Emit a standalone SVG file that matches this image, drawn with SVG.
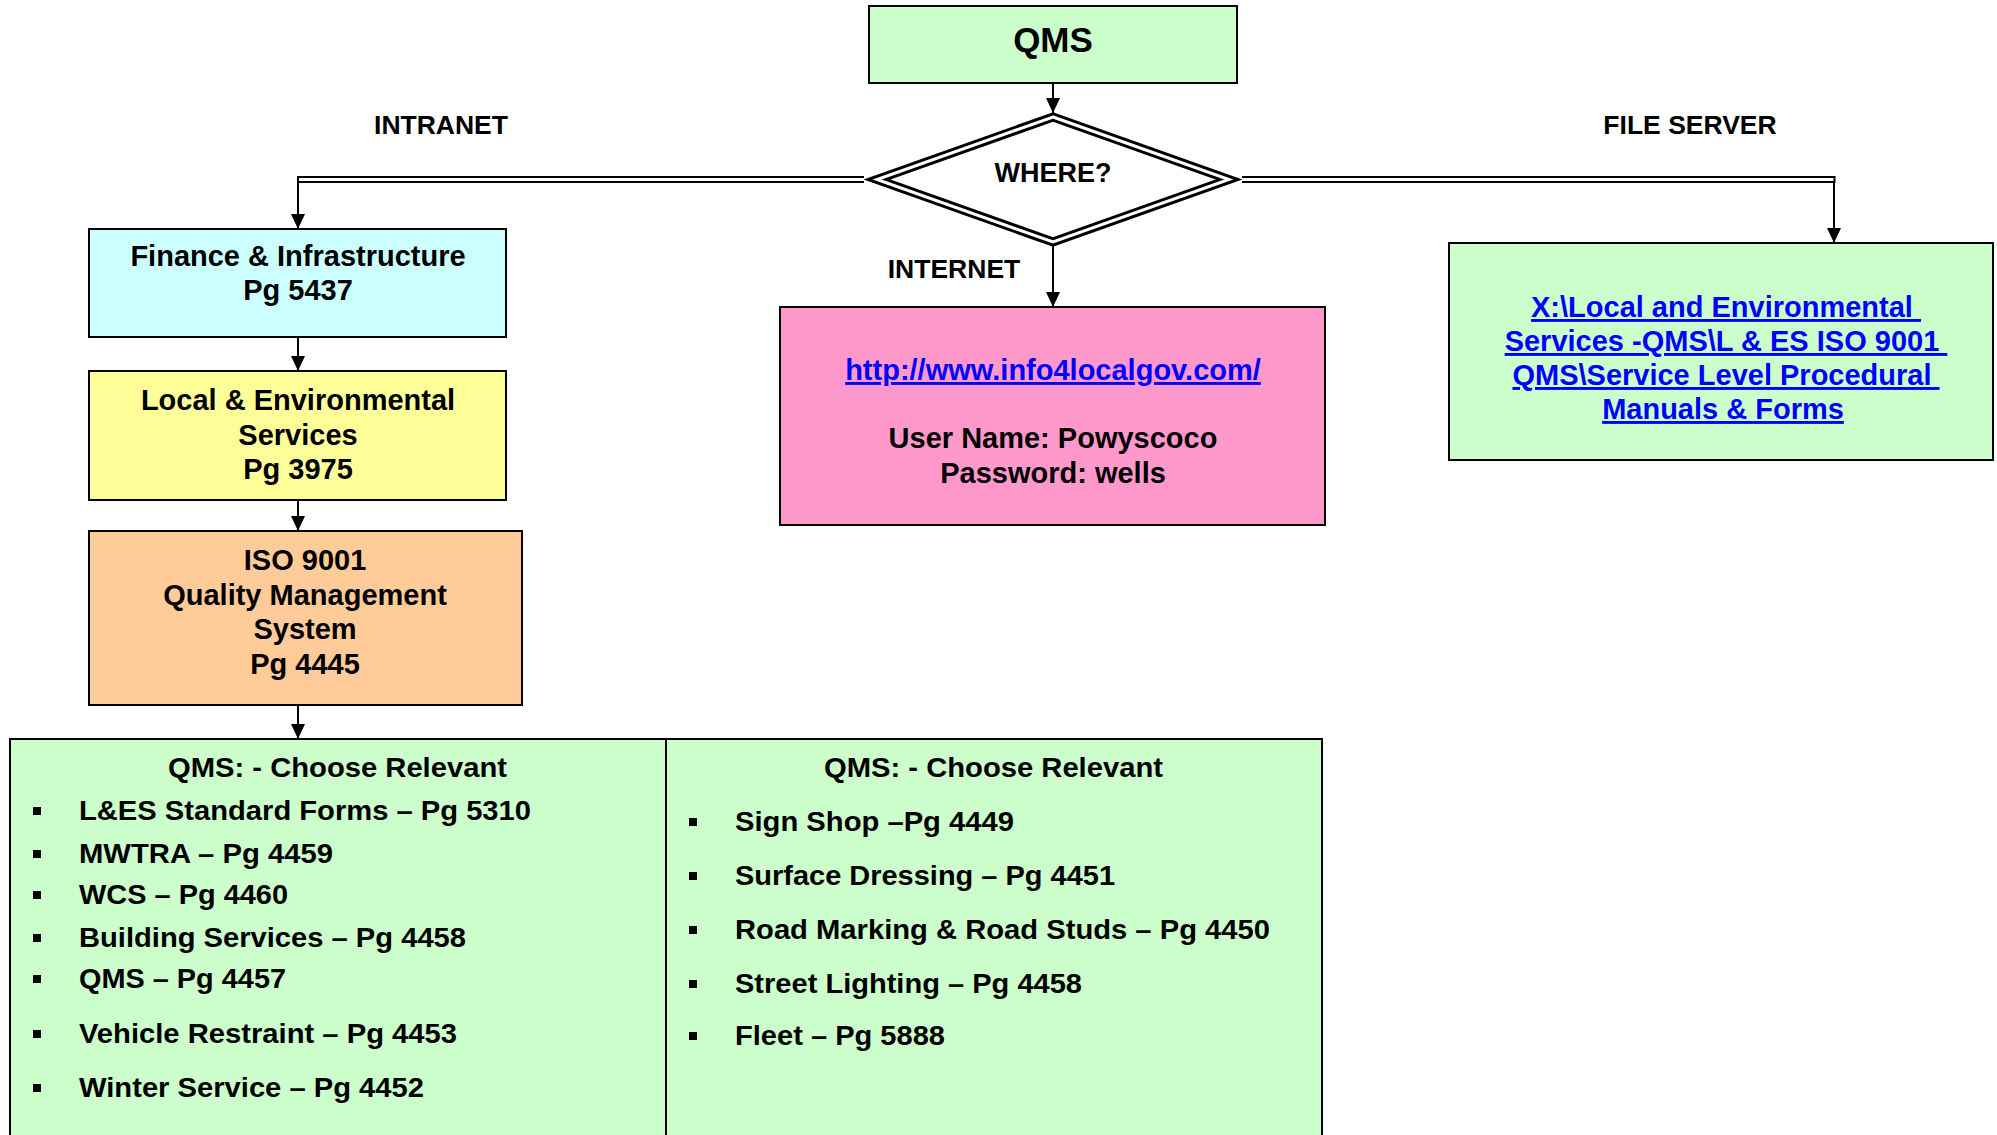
<svg xmlns="http://www.w3.org/2000/svg" width="1997" height="1135" viewBox="0 0 1997 1135">
<style>
text{font-family:"Liberation Sans",Arial,sans-serif;font-weight:bold;fill:#000}
.box{stroke:#000;stroke-width:2}
.c{text-anchor:middle}
.t29{font-size:29px}
.lbl{font-size:26.5px}
.lnk{fill:#0000FF;text-decoration:underline;font-size:29px}
.nar{font-size:28px}
.conn{stroke:#000;stroke-width:2;fill:none}
.dbl{stroke:#000;stroke-width:7;fill:none}
.gap{stroke:#fff;stroke-width:3;fill:none}
</style>
<defs>
<marker id="ah" markerWidth="15" markerHeight="14" refX="15" refY="7" orient="auto" markerUnits="userSpaceOnUse" viewBox="0 0 15 14"><path d="M0,0 L15,7 L0,14 z" fill="#000"/></marker>
</defs>
<rect width="1997" height="1135" fill="#fff"/>
<g id="connectors">
<path class="dbl" d="M864 179.5 H297"/>
<path class="gap" d="M866 179.5 H299"/>
<path class="dbl" d="M1242 179.5 H1835.5"/>
<path class="gap" d="M1240 179.5 H1833.5"/>
<line class="conn" x1="298" y1="182" x2="298" y2="229" marker-end="url(#ah)"/>
<line class="conn" x1="1834" y1="182" x2="1834" y2="243" marker-end="url(#ah)"/>
<line class="conn" x1="1053" y1="83" x2="1053" y2="113" marker-end="url(#ah)"/>
<line class="conn" x1="1053" y1="244" x2="1053" y2="307" marker-end="url(#ah)"/>
<line class="conn" x1="298" y1="337" x2="298" y2="371" marker-end="url(#ah)"/>
<line class="conn" x1="298" y1="500" x2="298" y2="531" marker-end="url(#ah)"/>
<line class="conn" x1="298" y1="705" x2="298" y2="739" marker-end="url(#ah)"/>
<text class="lbl c" x="441" y="134">INTRANET</text>
<text class="lbl c" x="954" y="278">INTERNET</text>
<text class="lbl c" x="1690" y="134">FILE SERVER</text>
</g>
<g id="qms">
<rect class="box" x="869" y="6" width="368" height="77" fill="#CCFFCC"/>
<text class="c" x="1053" y="52" font-size="35">QMS</text>
</g>
<g id="where">
<polygon points="1053,117 1229,179.5 1053,242 877,179.5" fill="#fff" stroke="#000" stroke-width="9" stroke-linejoin="miter"/>
<polygon points="1053,117 1229,179.5 1053,242 877,179.5" fill="none" stroke="#fff" stroke-width="3" stroke-linejoin="miter"/>
<text class="c" x="1053" y="182" font-size="27">WHERE?</text>
</g>
<g id="finance">
<rect class="box" x="89" y="229" width="417" height="108" fill="#CCFFFF"/>
<text class="t29 c" x="298" y="266">Finance &amp; Infrastructure</text>
<text class="t29 c" x="298" y="300">Pg 5437</text>
</g>
<g id="local">
<rect class="box" x="89" y="371" width="417" height="129" fill="#FFFF99"/>
<text class="t29 c" x="298" y="410">Local &amp; Environmental</text>
<text class="t29 c" x="298" y="445">Services</text>
<text class="t29 c" x="298" y="479">Pg 3975</text>
</g>
<g id="iso">
<rect class="box" x="89" y="531" width="433" height="174" fill="#FFCC99"/>
<text class="t29 c" x="305" y="570">ISO 9001</text>
<text class="t29 c" x="305" y="605">Quality Management</text>
<text class="t29 c" x="305" y="639">System</text>
<text class="t29 c" x="305" y="674">Pg 4445</text>
</g>
<g id="internet">
<rect class="box" x="780" y="307" width="545" height="218" fill="#FF99CC"/>
<text class="lnk c" x="1053" y="380">http://www.info4localgov.com/</text>
<text class="t29 c" x="1053" y="448">User Name: Powyscoco</text>
<text class="t29 c" x="1053" y="483">Password: wells</text>
</g>
<g id="fileserver">
<rect class="box" x="1449" y="243" width="544" height="217" fill="#CCFFCC"/>
<text class="lnk c" x="1726" y="317" xml:space="preserve">X:\Local and Environmental </text>
<text class="lnk c" x="1726" y="351" xml:space="preserve">Services -QMS\L &amp; ES ISO 9001 </text>
<text class="lnk c" x="1726" y="385" xml:space="preserve">QMS\Service Level Procedural </text>
<text class="lnk c" x="1723" y="419">Manuals &amp; Forms</text>
</g>
<g id="list-left">
<rect class="box" x="10" y="739" width="656" height="420" fill="#CCFFCC"/>
<text class="nar" x="168" y="777" textLength="339" lengthAdjust="spacingAndGlyphs">QMS: - Choose Relevant</text>
<rect x="33" y="807" width="8" height="8"/>
<text class="nar" x="79" y="820" textLength="452" lengthAdjust="spacingAndGlyphs">L&amp;ES Standard Forms – Pg 5310</text>
<rect x="33" y="850" width="8" height="8"/>
<text class="nar" x="79" y="863" textLength="254" lengthAdjust="spacingAndGlyphs">MWTRA – Pg 4459</text>
<rect x="33" y="891" width="8" height="8"/>
<text class="nar" x="79" y="904" textLength="209" lengthAdjust="spacingAndGlyphs">WCS – Pg 4460</text>
<rect x="33" y="934" width="8" height="8"/>
<text class="nar" x="79" y="947" textLength="387" lengthAdjust="spacingAndGlyphs">Building Services – Pg 4458</text>
<rect x="33" y="975" width="8" height="8"/>
<text class="nar" x="79" y="988" textLength="207" lengthAdjust="spacingAndGlyphs">QMS – Pg 4457</text>
<rect x="33" y="1030" width="8" height="8"/>
<text class="nar" x="79" y="1043" textLength="378" lengthAdjust="spacingAndGlyphs">Vehicle Restraint – Pg 4453</text>
<rect x="33" y="1084" width="8" height="8"/>
<text class="nar" x="79" y="1097" textLength="345" lengthAdjust="spacingAndGlyphs">Winter Service – Pg 4452</text>
</g>
<g id="list-right">
<rect class="box" x="666" y="739" width="656" height="420" fill="#CCFFCC"/>
<text class="nar" x="824" y="777" textLength="339" lengthAdjust="spacingAndGlyphs">QMS: - Choose Relevant</text>
<rect x="689" y="818" width="8" height="8"/>
<text class="nar" x="735" y="831" textLength="279" lengthAdjust="spacingAndGlyphs">Sign Shop –Pg 4449</text>
<rect x="689" y="872" width="8" height="8"/>
<text class="nar" x="735" y="885" textLength="380" lengthAdjust="spacingAndGlyphs">Surface Dressing – Pg 4451</text>
<rect x="689" y="926" width="8" height="8"/>
<text class="nar" x="735" y="939" textLength="535" lengthAdjust="spacingAndGlyphs">Road Marking &amp; Road Studs – Pg 4450</text>
<rect x="689" y="980" width="8" height="8"/>
<text class="nar" x="735" y="993" textLength="347" lengthAdjust="spacingAndGlyphs">Street Lighting – Pg 4458</text>
<rect x="689" y="1032" width="8" height="8"/>
<text class="nar" x="735" y="1045" textLength="210" lengthAdjust="spacingAndGlyphs">Fleet – Pg 5888</text>
</g>
</svg>
